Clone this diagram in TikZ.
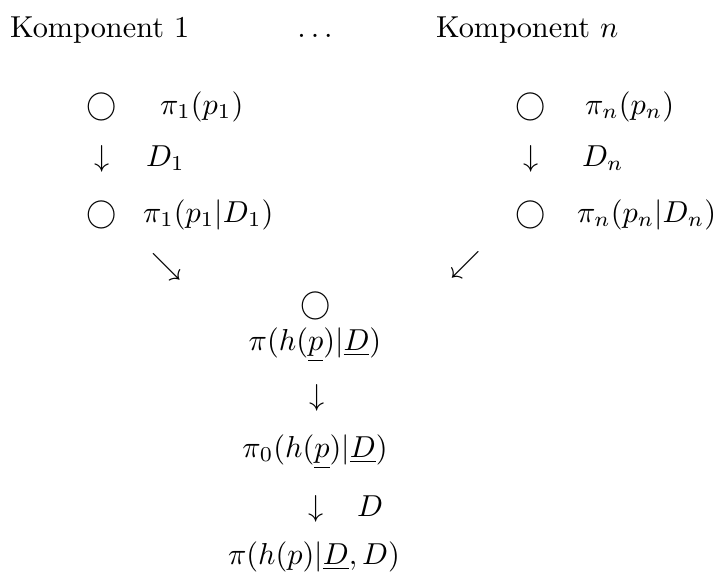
\documentclass[tikz,border=0pt]{standalone}
\begin{document}
\begin{tikzpicture}[x=0.33pt,y=-0.33pt,
  txt/.style={inner sep=0pt,outer sep=0pt,anchor=base west},
  ctr/.style={inner sep=0pt,outer sep=0pt,anchor=base},
  glyph/.style={inner sep=0pt,outer sep=0pt,anchor=center}]
\useasboundingbox (0,0) rectangle (720,578);
% header
\node[txt] (k1) at (10,37) {Komponent 1};
\node[ctr] (dots) at (315,37) {$\ldots$};
\node[txt] (kn) at (436,37) {Komponent $n$};
% left component
\node[ctr] (c1a) at (102,114) {$\bigcirc$};
\node[txt] (p1) at (160,114) {$\pi_1(p_1)$};
\node[ctr] (a1) at (102,166) {$\downarrow$};
\node[txt] (d1) at (146,166) {$D_1$};
\node[ctr] (c1b) at (102,222) {$\bigcirc$};
\node[txt] (p1d) at (143,222) {$\pi_1(p_1|D_1)$};
% right component
\node[ctr] (cna) at (531,114) {$\bigcirc$};
\node[txt] (pn) at (585,114) {$\pi_n(p_n)$};
\node[ctr] (an) at (531,166) {$\downarrow$};
\node[txt] (dn) at (582,166) {$D_n$};
\node[ctr] (cnb) at (531,222) {$\bigcirc$};
\node[txt] (pnd) at (577,222) {$\pi_n(p_n|D_n)$};
% merging arrows
\node[glyph] (se) at (167,267) {$\searrow$};
\node[glyph] (sw) at (466,265) {$\swarrow$};
% combined
\node[glyph] (cc) at (316,306) {$\bigcirc$};
\node[ctr] (ph) at (315,350) {$\pi(h(\underline{p})|\underline{D})$};
\node[ctr] (a2) at (317,405) {$\downarrow$};
\node[ctr] (p0) at (315,457) {$\pi_0(h(\underline{p})|\underline{D})$};
\node[ctr] (a3) at (316,516) {$\downarrow$};
\node[txt] (dd) at (357,516) {$D$};
\node[ctr] (pf) at (314,564) {$\pi(h(p)|\underline{D},D)$};
\end{tikzpicture}
\end{document}
